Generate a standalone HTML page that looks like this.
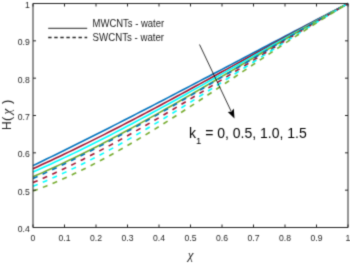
<!DOCTYPE html>
<html><head><meta charset="utf-8"><style>
html,body{margin:0;padding:0;background:#fff;width:350px;height:264px;overflow:hidden}
svg{display:block}
</style></head><body>
<svg width="350" height="264" viewBox="0 0 350 264">
<defs><filter id="bl" x="0" y="0" width="350" height="264" filterUnits="userSpaceOnUse" color-interpolation-filters="sRGB"><feConvolveMatrix order="3" kernelMatrix="0.0225 0.1050 0.0225 0.1050 0.4900 0.1050 0.0225 0.1050 0.0225" edgeMode="duplicate"/></filter></defs>
<g filter="url(#bl)">
<rect width="350" height="264" fill="#fff"/>
<g><path d="M33.00,165.60 L37.50,163.43 L42.00,161.25 L46.50,159.06 L51.00,156.87 L55.50,154.67 L60.00,152.46 L64.50,150.24 L69.00,148.01 L73.50,145.78 L78.00,143.54 L82.50,141.30 L87.00,139.04 L91.50,136.78 L96.00,134.52 L100.50,132.25 L105.00,129.97 L109.50,127.69 L114.00,125.40 L118.50,123.11 L123.00,120.81 L127.50,118.51 L132.00,116.20 L136.50,113.89 L141.00,111.57 L145.50,109.25 L150.00,106.93 L154.50,104.60 L159.00,102.27 L163.50,99.93 L168.00,97.59 L172.50,95.25 L177.00,92.91 L181.50,90.56 L186.00,88.21 L190.50,85.86 L195.00,83.50 L199.50,81.15 L204.00,78.79 L208.50,76.43 L213.00,74.07 L217.50,71.71 L222.00,69.34 L226.50,66.98 L231.00,64.62 L235.50,62.25 L240.00,59.89 L244.50,57.52 L249.00,55.15 L253.50,52.79 L258.00,50.42 L262.50,48.06 L267.00,45.70 L271.50,43.33 L276.00,40.97 L280.50,38.61 L285.00,36.25 L289.50,33.90 L294.00,31.54 L298.50,29.19 L303.00,26.84 L307.50,24.49 L312.00,22.15 L316.50,19.80 L321.00,17.46 L325.50,15.13 L330.00,12.80 L334.50,10.47 L339.00,8.14 L343.50,5.82 L348.00,3.50" fill="none" stroke="#0072BD" stroke-width="1.6"/><path d="M33.00,168.70 L37.50,166.66 L42.00,164.60 L46.50,162.53 L51.00,160.44 L55.50,158.33 L60.00,156.20 L64.50,154.05 L69.00,151.90 L73.50,149.72 L78.00,147.53 L82.50,145.32 L87.00,143.10 L91.50,140.87 L96.00,138.62 L100.50,136.36 L105.00,134.09 L109.50,131.80 L114.00,129.50 L118.50,127.19 L123.00,124.87 L127.50,122.54 L132.00,120.20 L136.50,117.85 L141.00,115.49 L145.50,113.12 L150.00,110.74 L154.50,108.35 L159.00,105.95 L163.50,103.55 L168.00,101.14 L172.50,98.72 L177.00,96.30 L181.50,93.87 L186.00,91.43 L190.50,88.99 L195.00,86.55 L199.50,84.10 L204.00,81.65 L208.50,79.19 L213.00,76.73 L217.50,74.27 L222.00,71.80 L226.50,69.34 L231.00,66.87 L235.50,64.40 L240.00,61.93 L244.50,59.46 L249.00,56.99 L253.50,54.52 L258.00,52.05 L262.50,49.58 L267.00,47.12 L271.50,44.65 L276.00,42.19 L280.50,39.74 L285.00,37.28 L289.50,34.83 L294.00,32.38 L298.50,29.94 L303.00,27.50 L307.50,25.07 L312.00,22.65 L316.50,20.23 L321.00,17.82 L325.50,15.41 L330.00,13.01 L334.50,10.62 L339.00,8.24 L343.50,5.86 L348.00,3.50" fill="none" stroke="#A2142F" stroke-width="1.6"/><path d="M33.00,171.91 L37.50,169.95 L42.00,167.95 L46.50,165.94 L51.00,163.90 L55.50,161.84 L60.00,159.75 L64.50,157.64 L69.00,155.51 L73.50,153.36 L78.00,151.18 L82.50,148.99 L87.00,146.77 L91.50,144.54 L96.00,142.29 L100.50,140.02 L105.00,137.73 L109.50,135.43 L114.00,133.11 L118.50,130.77 L123.00,128.42 L127.50,126.05 L132.00,123.67 L136.50,121.28 L141.00,118.87 L145.50,116.45 L150.00,114.02 L154.50,111.57 L159.00,109.12 L163.50,106.65 L168.00,104.18 L172.50,101.69 L177.00,99.20 L181.50,96.70 L186.00,94.19 L190.50,91.67 L195.00,89.15 L199.50,86.62 L204.00,84.09 L208.50,81.55 L213.00,79.01 L217.50,76.46 L222.00,73.91 L226.50,71.36 L231.00,68.80 L235.50,66.25 L240.00,63.69 L244.50,61.14 L249.00,58.58 L253.50,56.02 L258.00,53.47 L262.50,50.91 L267.00,48.36 L271.50,45.82 L276.00,43.27 L280.50,40.73 L285.00,38.20 L289.50,35.67 L294.00,33.14 L298.50,30.63 L303.00,28.11 L307.50,25.61 L312.00,23.11 L316.50,20.63 L321.00,18.15 L325.50,15.68 L330.00,13.22 L334.50,10.77 L339.00,8.34 L343.50,5.91 L348.00,3.50" fill="none" stroke="#00FFFF" stroke-width="1.6"/><path d="M33.00,176.80 L37.50,174.84 L42.00,172.86 L46.50,170.84 L51.00,168.79 L55.50,166.72 L60.00,164.62 L64.50,162.50 L69.00,160.34 L73.50,158.16 L78.00,155.96 L82.50,153.74 L87.00,151.49 L91.50,149.21 L96.00,146.92 L100.50,144.60 L105.00,142.27 L109.50,139.91 L114.00,137.54 L118.50,135.14 L123.00,132.73 L127.50,130.30 L132.00,127.85 L136.50,125.39 L141.00,122.91 L145.50,120.42 L150.00,117.91 L154.50,115.39 L159.00,112.86 L163.50,110.31 L168.00,107.75 L172.50,105.19 L177.00,102.61 L181.50,100.02 L186.00,97.42 L190.50,94.82 L195.00,92.20 L199.50,89.58 L204.00,86.96 L208.50,84.33 L213.00,81.69 L217.50,79.05 L222.00,76.40 L226.50,73.76 L231.00,71.11 L235.50,68.45 L240.00,65.80 L244.50,63.15 L249.00,60.49 L253.50,57.84 L258.00,55.19 L262.50,52.54 L267.00,49.90 L271.50,47.25 L276.00,44.62 L280.50,41.98 L285.00,39.35 L289.50,36.73 L294.00,34.12 L298.50,31.51 L303.00,28.91 L307.50,26.32 L312.00,23.74 L316.50,21.17 L321.00,18.61 L325.50,16.06 L330.00,13.52 L334.50,10.99 L339.00,8.48 L343.50,5.98 L348.00,3.50" fill="none" stroke="#77AC30" stroke-width="1.6"/><path d="M33.00,178.41 L37.50,176.43 L42.00,174.42 L46.50,172.38 L51.00,170.31 L55.50,168.21 L60.00,166.09 L64.50,163.94 L69.00,161.76 L73.50,159.56 L78.00,157.34 L82.50,155.09 L87.00,152.82 L91.50,150.52 L96.00,148.20 L100.50,145.87 L105.00,143.51 L109.50,141.13 L114.00,138.73 L118.50,136.31 L123.00,133.88 L127.50,131.42 L132.00,128.95 L136.50,126.47 L141.00,123.97 L145.50,121.45 L150.00,118.92 L154.50,116.38 L159.00,113.82 L163.50,111.25 L168.00,108.67 L172.50,106.08 L177.00,103.48 L181.50,100.87 L186.00,98.25 L190.50,95.62 L195.00,92.98 L199.50,90.34 L204.00,87.69 L208.50,85.04 L213.00,82.38 L217.50,79.71 L222.00,77.05 L226.50,74.38 L231.00,71.70 L235.50,69.03 L240.00,66.35 L244.50,63.68 L249.00,61.00 L253.50,58.32 L258.00,55.65 L262.50,52.98 L267.00,50.31 L271.50,47.64 L276.00,44.98 L280.50,42.33 L285.00,39.68 L289.50,37.03 L294.00,34.39 L298.50,31.76 L303.00,29.14 L307.50,26.53 L312.00,23.92 L316.50,21.33 L321.00,18.74 L325.50,16.17 L330.00,13.61 L334.50,11.06 L339.00,8.53 L343.50,6.01 L348.00,3.50" fill="none" stroke="#0072BD" stroke-width="1.6" stroke-dasharray="5 5.5"/><path d="M33.00,182.59 L37.50,180.68 L42.00,178.73 L46.50,176.75 L51.00,174.73 L55.50,172.67 L60.00,170.58 L64.50,168.46 L69.00,166.30 L73.50,164.12 L78.00,161.90 L82.50,159.66 L87.00,157.38 L91.50,155.08 L96.00,152.74 L100.50,150.39 L105.00,148.00 L109.50,145.59 L114.00,143.16 L118.50,140.70 L123.00,138.22 L127.50,135.72 L132.00,133.20 L136.50,130.66 L141.00,128.10 L145.50,125.52 L150.00,122.92 L154.50,120.30 L159.00,117.67 L163.50,115.03 L168.00,112.37 L172.50,109.69 L177.00,107.01 L181.50,104.31 L186.00,101.60 L190.50,98.88 L195.00,96.15 L199.50,93.41 L204.00,90.66 L208.50,87.91 L213.00,85.15 L217.50,82.38 L222.00,79.62 L226.50,76.84 L231.00,74.07 L235.50,71.29 L240.00,68.51 L244.50,65.73 L249.00,62.95 L253.50,60.17 L258.00,57.39 L262.50,54.61 L267.00,51.84 L271.50,49.08 L276.00,46.32 L280.50,43.56 L285.00,40.81 L289.50,38.07 L294.00,35.34 L298.50,32.61 L303.00,29.90 L307.50,27.20 L312.00,24.51 L316.50,21.83 L321.00,19.16 L325.50,16.51 L330.00,13.88 L334.50,11.26 L339.00,8.65 L343.50,6.07 L348.00,3.50" fill="none" stroke="#A2142F" stroke-width="1.6" stroke-dasharray="5 5.5"/><path d="M33.00,186.21 L37.50,184.40 L42.00,182.55 L46.50,180.65 L51.00,178.71 L55.50,176.72 L60.00,174.69 L64.50,172.63 L69.00,170.52 L73.50,168.37 L78.00,166.18 L82.50,163.96 L87.00,161.70 L91.50,159.40 L96.00,157.07 L100.50,154.71 L105.00,152.32 L109.50,149.89 L114.00,147.44 L118.50,144.95 L123.00,142.44 L127.50,139.90 L132.00,137.34 L136.50,134.75 L141.00,132.13 L145.50,129.50 L150.00,126.84 L154.50,124.16 L159.00,121.46 L163.50,118.74 L168.00,116.00 L172.50,113.25 L177.00,110.48 L181.50,107.70 L186.00,104.90 L190.50,102.09 L195.00,99.27 L199.50,96.43 L204.00,93.59 L208.50,90.74 L213.00,87.88 L217.50,85.01 L222.00,82.14 L226.50,79.26 L231.00,76.38 L235.50,73.50 L240.00,70.61 L244.50,67.73 L249.00,64.84 L253.50,61.96 L258.00,59.08 L262.50,56.20 L267.00,53.32 L271.50,50.46 L276.00,47.59 L280.50,44.74 L285.00,41.89 L289.50,39.06 L294.00,36.23 L298.50,33.42 L303.00,30.61 L307.50,27.82 L312.00,25.05 L316.50,22.29 L321.00,19.55 L325.50,16.82 L330.00,14.12 L334.50,11.43 L339.00,8.77 L343.50,6.12 L348.00,3.50" fill="none" stroke="#00FFFF" stroke-width="1.6" stroke-dasharray="5 5.5"/><path d="M33.00,191.10 L37.50,189.43 L42.00,187.70 L46.50,185.92 L51.00,184.08 L55.50,182.18 L60.00,180.24 L64.50,178.24 L69.00,176.19 L73.50,174.09 L78.00,171.94 L82.50,169.75 L87.00,167.51 L91.50,165.22 L96.00,162.90 L100.50,160.53 L105.00,158.12 L109.50,155.68 L114.00,153.19 L118.50,150.67 L123.00,148.11 L127.50,145.52 L132.00,142.90 L136.50,140.24 L141.00,137.56 L145.50,134.84 L150.00,132.10 L154.50,129.34 L159.00,126.54 L163.50,123.73 L168.00,120.89 L172.50,118.03 L177.00,115.15 L181.50,112.25 L186.00,109.33 L190.50,106.40 L195.00,103.45 L199.50,100.49 L204.00,97.52 L208.50,94.53 L213.00,91.54 L217.50,88.54 L222.00,85.53 L226.50,82.51 L231.00,79.49 L235.50,76.47 L240.00,73.44 L244.50,70.42 L249.00,67.39 L253.50,64.37 L258.00,61.34 L262.50,58.33 L267.00,55.32 L271.50,52.31 L276.00,49.31 L280.50,46.33 L285.00,43.35 L289.50,40.38 L294.00,37.43 L298.50,34.50 L303.00,31.57 L307.50,28.67 L312.00,25.78 L316.50,22.92 L321.00,20.07 L325.50,17.24 L330.00,14.44 L334.50,11.67 L339.00,8.92 L343.50,6.19 L348.00,3.50" fill="none" stroke="#77AC30" stroke-width="1.6" stroke-dasharray="5 5.5"/></g>
<g stroke="#262626" stroke-width="1" fill="none">
<path d="M33.0,227.5 L33.0,3.5 L348.0,3.5 L348.0,227.5 Z"/>
<line x1="33.00" y1="227.5" x2="33.00" y2="224.5"/><line x1="33.00" y1="3.5" x2="33.00" y2="6.5"/><line x1="64.50" y1="227.5" x2="64.50" y2="224.5"/><line x1="64.50" y1="3.5" x2="64.50" y2="6.5"/><line x1="96.00" y1="227.5" x2="96.00" y2="224.5"/><line x1="96.00" y1="3.5" x2="96.00" y2="6.5"/><line x1="127.50" y1="227.5" x2="127.50" y2="224.5"/><line x1="127.50" y1="3.5" x2="127.50" y2="6.5"/><line x1="159.00" y1="227.5" x2="159.00" y2="224.5"/><line x1="159.00" y1="3.5" x2="159.00" y2="6.5"/><line x1="190.50" y1="227.5" x2="190.50" y2="224.5"/><line x1="190.50" y1="3.5" x2="190.50" y2="6.5"/><line x1="222.00" y1="227.5" x2="222.00" y2="224.5"/><line x1="222.00" y1="3.5" x2="222.00" y2="6.5"/><line x1="253.50" y1="227.5" x2="253.50" y2="224.5"/><line x1="253.50" y1="3.5" x2="253.50" y2="6.5"/><line x1="285.00" y1="227.5" x2="285.00" y2="224.5"/><line x1="285.00" y1="3.5" x2="285.00" y2="6.5"/><line x1="316.50" y1="227.5" x2="316.50" y2="224.5"/><line x1="316.50" y1="3.5" x2="316.50" y2="6.5"/><line x1="348.00" y1="227.5" x2="348.00" y2="224.5"/><line x1="348.00" y1="3.5" x2="348.00" y2="6.5"/><line x1="33.0" y1="227.50" x2="36.0" y2="227.50"/><line x1="348.0" y1="227.50" x2="345.0" y2="227.50"/><line x1="33.0" y1="190.17" x2="36.0" y2="190.17"/><line x1="348.0" y1="190.17" x2="345.0" y2="190.17"/><line x1="33.0" y1="152.83" x2="36.0" y2="152.83"/><line x1="348.0" y1="152.83" x2="345.0" y2="152.83"/><line x1="33.0" y1="115.50" x2="36.0" y2="115.50"/><line x1="348.0" y1="115.50" x2="345.0" y2="115.50"/><line x1="33.0" y1="78.17" x2="36.0" y2="78.17"/><line x1="348.0" y1="78.17" x2="345.0" y2="78.17"/><line x1="33.0" y1="40.83" x2="36.0" y2="40.83"/><line x1="348.0" y1="40.83" x2="345.0" y2="40.83"/><line x1="33.0" y1="3.50" x2="36.0" y2="3.50"/><line x1="348.0" y1="3.50" x2="345.0" y2="3.50"/>
</g>
<g font-family="'Liberation Sans', sans-serif" font-size="9.4" fill="#262626" letter-spacing="0"><text transform="translate(33.00,241.2) scale(0.92,1)" text-anchor="middle">0</text><text transform="translate(64.50,241.2) scale(0.92,1)" text-anchor="middle">0.1</text><text transform="translate(96.00,241.2) scale(0.92,1)" text-anchor="middle">0.2</text><text transform="translate(127.50,241.2) scale(0.92,1)" text-anchor="middle">0.3</text><text transform="translate(159.00,241.2) scale(0.92,1)" text-anchor="middle">0.4</text><text transform="translate(190.50,241.2) scale(0.92,1)" text-anchor="middle">0.5</text><text transform="translate(222.00,241.2) scale(0.92,1)" text-anchor="middle">0.6</text><text transform="translate(253.50,241.2) scale(0.92,1)" text-anchor="middle">0.7</text><text transform="translate(285.00,241.2) scale(0.92,1)" text-anchor="middle">0.8</text><text transform="translate(316.50,241.2) scale(0.92,1)" text-anchor="middle">0.9</text><text transform="translate(348.00,241.2) scale(0.92,1)" text-anchor="middle">1</text><text transform="translate(29.8,232.00) scale(0.92,1)" text-anchor="end">0.4</text><text transform="translate(29.8,194.67) scale(0.92,1)" text-anchor="end">0.5</text><text transform="translate(29.8,157.33) scale(0.92,1)" text-anchor="end">0.6</text><text transform="translate(29.8,120.00) scale(0.92,1)" text-anchor="end">0.7</text><text transform="translate(29.8,82.67) scale(0.92,1)" text-anchor="end">0.8</text><text transform="translate(29.8,45.33) scale(0.92,1)" text-anchor="end">0.9</text><text transform="translate(29.8,8.00) scale(0.92,1)" text-anchor="end">1</text></g>
<text x="190.5" y="259.1" font-family="'Liberation Serif', serif" font-style="italic" font-size="13" fill="#262626" text-anchor="middle">&#967;</text>
<g transform="translate(11,130.1) rotate(-90)" fill="#262626" font-family="'Liberation Sans', sans-serif"><text x="0" y="0" font-size="12">H</text><text x="9.2" y="0" font-size="13">(</text><text x="15.6" y="0" font-size="13" font-family="'Liberation Serif', serif" font-style="italic">&#967;</text><text x="26" y="0" font-size="13">)</text></g>
<g stroke="#262626" stroke-width="1" fill="none">
<line x1="48.2" y1="28.3" x2="87.2" y2="28.3"/>
<line x1="48.2" y1="37.5" x2="87.2" y2="37.5" stroke-dasharray="3.4 2.66" stroke-width="1.5"/>
</g>
<g font-family="'Liberation Sans', sans-serif" font-size="10.5" fill="#1a1a1a">
<text x="92.6" y="26.8" textLength="71.5" lengthAdjust="spacingAndGlyphs">MWCNTs - water</text>
<text x="92.6" y="40.6" textLength="71.5" lengthAdjust="spacingAndGlyphs">SWCNTs - water</text>
</g>
<g><line x1="199.5" y1="44.5" x2="231" y2="111" stroke="#000" stroke-width="0.8"/><path d="M234.5,118.6 L227.8,112 L231.5,111.5 L233.8,108.6 Z" fill="#000"/></g>
<g font-family="'Liberation Sans', sans-serif" fill="#000">
<text x="189" y="137.5" font-size="14">k<tspan font-size="9.5" dy="6">1</tspan><tspan dy="-6"> = 0, 0.5, 1.0, 1.5</tspan></text>
</g>
</g></svg>
</body></html>
